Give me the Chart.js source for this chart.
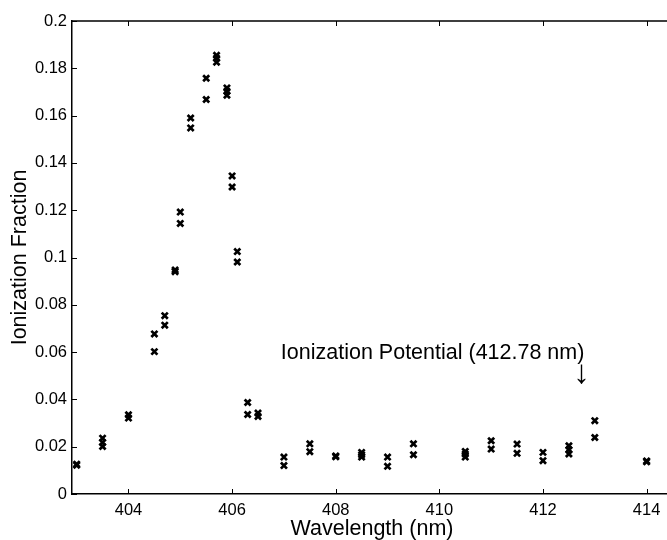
<!DOCTYPE html>
<html>
<head>
<meta charset="utf-8">
<script src="https://cdn.jsdelivr.net/npm/chart.js@4/dist/chart.umd.min.js"></script>
<style>
html,body{margin:0;padding:0;overflow:hidden;background:#fff}
#wrap{width:679px;height:540px;position:relative}
</style>
</head>
<body>
<div id="wrap"><canvas id="c"></canvas></div>
<script>
// ---- data ----
const wavelength = [403, 403.5, 404, 404.5, 404.7, 404.9, 405, 405.2, 405.5, 405.7, 405.9, 406, 406.1, 406.3, 406.5, 407, 407.5, 408, 408.5, 409, 409.5, 410.5, 411, 411.5, 412, 412.5, 413, 414];
const scanA = [0.0126, 0.0236, 0.0335, 0.0677, 0.0754, 0.0947, 0.1192, 0.1590, 0.1758, 0.1855, 0.1717, 0.1345, 0.1025, 0.0387, 0.0342, 0.0156, 0.0212, 0.0161, 0.0176, 0.0156, 0.0212, 0.0180, 0.0225, 0.0211, 0.0176, 0.0204, 0.0310, 0.0140];
const scanB = [0.0122, 0.0201, 0.0321, 0.0602, 0.0714, 0.0940, 0.1144, 0.1548, 0.1668, 0.1826, 0.1686, 0.1298, 0.0981, 0.0336, 0.0328, 0.0120, 0.0179, 0.0157, 0.0156, 0.0117, 0.0166, 0.0156, 0.0190, 0.0172, 0.0141, 0.0169, 0.0239, 0.0136];
const scanC = [null, 0.0218, null, null, null, null, null, null, null, 0.1842, 0.1703, null, null, null, null, null, null, null, 0.0166, null, null, 0.0169, null, null, null, 0.0187, null, null];
const xTicks = [404, 406, 408, 410, 412, 414];
const yTicks = [0, 0.02, 0.04, 0.06, 0.08, 0.1, 0.12, 0.14, 0.16, 0.18, 0.2];
const yTickLabels = ['0', '0.02', '0.04', '0.06', '0.08', '0.1', '0.12', '0.14', '0.16', '0.18', '0.2'];
const xTitle = 'Wavelength (nm)';
const yTitle = 'Ionization Fraction';
const annotationText = 'Ionization Potential (412.78 nm)';
const ionizationPotential = 412.78;
const annotationTextY = 0.0569;
const annotationArrowY = 0.0468;

const FONT = '"Liberation Sans", Arial, Helvetica, sans-serif';
Chart.defaults.font.family = FONT;
Chart.defaults.color = '#000';

function toPoints(series) {
  const pts = [];
  wavelength.forEach((w, i) => { if (series[i] !== null) pts.push({x: w, y: series[i]}); });
  return pts;
}
const markerStyle = {
  showLine: false, pointStyle: 'crossRot', pointRadius: 4.3, pointBorderWidth: 2.7,
  borderColor: '#000', backgroundColor: '#000', pointHoverRadius: 4.3
};

const frame = {
  id: 'frame',
  afterDatasetsDraw(chart) {
    const {ctx, chartArea: a, scales: {x, y}} = chart;
    ctx.save();
    ctx.strokeStyle = '#000';
    ctx.lineWidth = 1;
    ctx.beginPath();
    xTicks.forEach(v => {
      const px = Math.round(x.getPixelForValue(v)) + 0.5;
      ctx.moveTo(px, a.bottom); ctx.lineTo(px, a.bottom - 5);
      ctx.moveTo(px, a.top); ctx.lineTo(px, a.top + 5);
    });
    yTicks.forEach(v => {
      const py = Math.round(y.getPixelForValue(v)) + 0.5;
      ctx.moveTo(a.left, py); ctx.lineTo(a.left + 5, py);
      ctx.moveTo(a.right, py); ctx.lineTo(a.right - 5, py);
    });
    ctx.stroke();
    ctx.lineWidth = 1.5;
    ctx.beginPath();
    ctx.moveTo(a.left, a.top); ctx.lineTo(a.right, a.top); ctx.lineTo(a.right, a.bottom);
    ctx.stroke();
    ctx.fillStyle = '#000';
    ctx.textBaseline = 'alphabetic';
    ctx.font = '21.5px ' + FONT;
    ctx.textAlign = 'right';
    ctx.fillText(annotationText, x.getPixelForValue(ionizationPotential) + 1, y.getPixelForValue(annotationTextY));
    ctx.font = '33px ' + FONT;
    ctx.textAlign = 'center';
    ctx.fillText('\u2193', x.getPixelForValue(ionizationPotential) - 2, y.getPixelForValue(annotationArrowY));
    ctx.restore();
  }
};

new Chart(document.getElementById('c'), {
  type: 'scatter',
  data: {
    datasets: [
      Object.assign({label: 'scan A', data: toPoints(scanA)}, markerStyle),
      Object.assign({label: 'scan B', data: toPoints(scanB)}, markerStyle),
      Object.assign({label: 'scan C', data: toPoints(scanC)}, markerStyle)
    ]
  },
  options: {
    responsive: true,
    maintainAspectRatio: false,
    animation: false,
    layout: {padding: {top: 21, right: 0, left: 0, bottom: -8}},
    plugins: {legend: {display: false}, tooltip: {enabled: false}},
    scales: {
      x: {
        type: 'linear', position: 'bottom', min: 402.91, max: 414.49,
        grid: {display: true, drawOnChartArea: false, drawTicks: false},
        border: {display: true, color: '#000', width: 1.5},
        ticks: {color: '#000', font: {size: 16.5}, padding: 7, maxRotation: 0},
        title: {display: true, text: xTitle, color: '#000', font: {size: 21.5}, padding: {top: 0, bottom: 6}},
        afterBuildTicks: s => { s.ticks = xTicks.map(v => ({value: v})); },
        afterFit: s => { s.height = 54; s.paddingLeft = 0; s.paddingRight = 0; }
      },
      y: {
        type: 'linear', position: 'left', min: 0, max: 0.2,
        grid: {display: true, drawOnChartArea: false, drawTicks: false},
        border: {display: true, color: '#000', width: 1.5},
        ticks: {color: '#000', font: {size: 16.5}, padding: 5, callback: (v, i) => yTickLabels[i]},
        title: {display: true, text: yTitle, color: '#000', font: {size: 21.5}, padding: {top: 7, bottom: 0}},
        afterBuildTicks: s => { s.ticks = yTicks.map(v => ({value: v})); },
        afterFit: s => { s.width = 72; s.paddingTop = 0; s.paddingBottom = 0; }
      }
    }
  },
  plugins: [frame]
});
</script>
</body>
</html>
